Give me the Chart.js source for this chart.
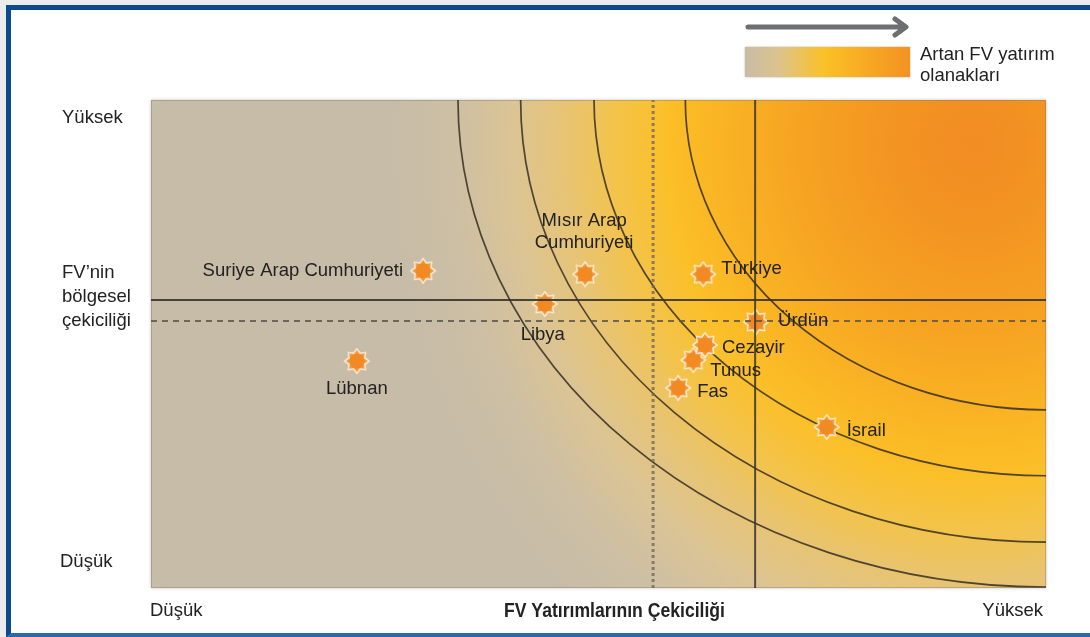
<!DOCTYPE html>
<html lang="tr">
<head>
<meta charset="utf-8">
<title>FV Yatırımlarının Çekiciliği</title>
<script src="https://cdn.jsdelivr.net/npm/chart.js@4.4.1/dist/chart.umd.min.js"></script>
<style>
  html, body { margin: 0; padding: 0; background: #ececec; overflow: hidden; }
  .frame {
    position: absolute; left: 6px; top: 5px; width: 1100px; height: 632px;
    box-sizing: border-box; background: #fff;
    border-top: 5px solid #0c4a8b; border-left: 5px solid #0c4a8b;
    border-bottom: 4px solid #2c69a6;
  }
  #chart { position: absolute; left: 0; top: 0; }
</style>
</head>
<body>
<div class="frame"></div>
<canvas id="chart" width="1090" height="637"></canvas>
<script>
// ülkeler ve konumları (0-100 ölçeği)
const countries = ['Suriye Arap Cumhuriyeti', 'Mısır Arap\nCumhuriyeti', 'Libya', 'Lübnan', 'Türkiye', 'Ürdün', 'Fas', 'Tunus', 'Cezayir', 'İsrail'];
const fdiAttract = [30.4, 48.5, 44.0, 23.0, 61.7, 67.6, 58.9, 60.6, 61.9, 75.5];   // x
const regionalAttract = [65.0, 64.3, 58.2, 46.5, 64.3, 54.5, 41.0, 46.7, 49.8, 33.0]; // y

// ortalama çizgileri
const solidH = 59.0, dashedH = 54.7;
const dottedV = 56.1, solidV = 67.5;

// eş-fırsat eğrileri (sağ üst köşeden yarı eksenler)
const arcRx = [40.3, 50.5, 58.7, 65.7];
const arcRy = [63.5, 77.0, 90.6, 99.8];

// eksen etiketleri
const xTickLabels = ['Düşük', 'Yüksek'];
const yTickLabels = ['Düşük', 'Yüksek'];
const yTitle = ['FV’nin', 'bölgesel', 'çekiciliği'];
const xTitle = 'FV Yatırımlarının Çekiciliği';
const legendText = ['Artan FV yatırım', 'olanakları'];

// etiket yerleşimi: dx, dy, hizalama
const labelPlace = [
  [-20, 0, 'right'], [-1, -53, 'center'], [-2, 31, 'center'], [0, 28, 'center'],
  [18, -5, 'left'], [22, -1, 'left'], [19, 4, 'left'], [17, 11, 'left'],
  [17, 3, 'left'], [20, 4, 'left']
];

const FONT = '"Liberation Sans", Arial, Helvetica, sans-serif';

// yıldız işaretçisi
function makeStar() {
  const c = document.createElement('canvas');
  c.width = c.height = 32;
  const g = c.getContext('2d');
  g.translate(16, 16);
  function spikes(outer, inner, color) {
    g.beginPath();
    for (let i = 0; i < 16; i++) {
      const r = i % 2 === 0 ? outer : inner;
      const a = -Math.PI / 2 + i * Math.PI / 8;
      const px = Math.cos(a) * r, py = Math.sin(a) * r;
      if (i === 0) g.moveTo(px, py); else g.lineTo(px, py);
    }
    g.closePath();
    g.fillStyle = color;
    g.fill();
  }
  spikes(13.5, 9.5, 'rgba(255,240,222,0.85)');
  spikes(11, 7.5, '#f4983a');
  g.beginPath();
  g.arc(0, 0, 7.5, 0, Math.PI * 2);
  g.fillStyle = '#f28a24';
  g.fill();
  return c;
}

const bgPlugin = {
  id: 'bg',
  beforeDatasetsDraw(chart) {
    const { ctx, chartArea: a, scales: { x, y } } = chart;
    const w = a.right - a.left, h = a.bottom - a.top;
    ctx.save();
    ctx.shadowColor = 'rgba(0,0,0,0.25)';
    ctx.shadowBlur = 3;
    ctx.fillStyle = '#c7bca7';
    ctx.fillRect(a.left, a.top, w, h);
    ctx.restore();

    // sağ üstten yayılan degrade
    ctx.save();
    ctx.beginPath();
    ctx.rect(a.left, a.top, w, h);
    ctx.clip();
    const cx = a.left + w * 0.92, cy = a.top + h * 0.09;
    ctx.translate(cx, cy);
    ctx.scale(1, 1.08);
    const grad = ctx.createRadialGradient(0, 0, 0, 0, 0, 580);
    grad.addColorStop(0, '#f18c23');
    grad.addColorStop(0.15, '#f39522');
    grad.addColorStop(0.3, '#f6a322');
    grad.addColorStop(0.45, '#fab524');
    grad.addColorStop(0.53, '#fbbf28');
    grad.addColorStop(0.62, '#f3c34a');
    grad.addColorStop(0.7, '#e8c472');
    grad.addColorStop(0.8, '#dbc495');
    grad.addColorStop(0.9, '#cdbfa4');
    grad.addColorStop(1, '#c7bca7');
    ctx.fillStyle = grad;
    ctx.fillRect(-cx, -cy, 1200, 700);
    ctx.restore();

    ctx.save();
    ctx.strokeStyle = 'rgba(120,110,90,0.35)';
    ctx.lineWidth = 1;
    ctx.strokeRect(a.left + 0.5, a.top + 0.5, w - 1, h - 1);

    // eğriler
    ctx.beginPath();
    ctx.rect(a.left, a.top, w, h);
    ctx.clip();
    const ox = x.getPixelForValue(100), oy = y.getPixelForValue(100);
    ctx.strokeStyle = 'rgba(40,36,30,0.8)';
    ctx.lineWidth = 1.7;
    arcRx.forEach((rx, i) => {
      const px = ox - x.getPixelForValue(100 - rx);
      const py = y.getPixelForValue(100 - arcRy[i]) - oy;
      ctx.beginPath();
      ctx.ellipse(ox, oy, px, py, 0, Math.PI / 2, Math.PI);
      ctx.stroke();
    });
    ctx.restore();
  }
};

const textPlugin = {
  id: 'texts',
  afterDatasetsDraw(chart) {
    const { ctx, chartArea: a } = chart;
    const meta = chart.getDatasetMeta(4);
    ctx.save();
    ctx.fillStyle = '#222';
    ctx.font = '18.5px ' + FONT;
    ctx.textBaseline = 'middle';
    meta.data.forEach((pt, i) => {
      const [dx, dy, align] = labelPlace[i];
      ctx.textAlign = align;
      countries[i].split('\n').forEach((line, j) => {
        ctx.fillText(line, pt.x + dx, pt.y + dy + j * 22);
      });
    });

    // y ekseni
    ctx.textAlign = 'left';
    ctx.fillText(yTickLabels[1], 62, 118);
    ctx.fillText(yTickLabels[0], 60, 562);
    yTitle.forEach((t, j) => ctx.fillText(t, 62, 273 + j * 24));

    // x ekseni
    ctx.fillText(xTickLabels[0], a.left - 1, 611);
    ctx.textAlign = 'right';
    ctx.fillText(xTickLabels[1], a.right - 3, 611);

    ctx.font = 'bold 19.5px ' + FONT;
    ctx.textAlign = 'left';
    const tw = ctx.measureText(xTitle).width;
    ctx.translate(504, 612);
    ctx.scale(221 / tw, 1);
    ctx.fillText(xTitle, 0, 0);
    ctx.restore();

    // lejant
    ctx.save();
    ctx.strokeStyle = '#6e6f72';
    ctx.lineWidth = 5;
    ctx.lineCap = 'round';
    ctx.lineJoin = 'round';
    ctx.beginPath();
    ctx.moveTo(748, 27);
    ctx.lineTo(905, 27);
    ctx.moveTo(895, 19);
    ctx.lineTo(906, 27);
    ctx.lineTo(895, 35);
    ctx.stroke();

    const lg = ctx.createLinearGradient(745, 0, 910, 0);
    lg.addColorStop(0, '#c8bca6');
    lg.addColorStop(0.2, '#dcc38e');
    lg.addColorStop(0.48, '#fbc126');
    lg.addColorStop(0.75, '#f7a824');
    lg.addColorStop(1, '#f39222');
    ctx.shadowColor = 'rgba(0,0,0,0.3)';
    ctx.shadowBlur = 2;
    ctx.fillStyle = lg;
    ctx.fillRect(745, 47, 165, 30);
    ctx.shadowBlur = 0;
    ctx.fillStyle = '#222';
    ctx.font = '18.5px ' + FONT;
    ctx.textAlign = 'left';
    ctx.textBaseline = 'middle';
    ctx.fillText(legendText[0], 920, 55);
    ctx.fillText(legendText[1], 920, 76);
    ctx.restore();
  }
};

const star = makeStar();
const pts = fdiAttract.map((v, i) => ({ x: v, y: regionalAttract[i] }));

new Chart(document.getElementById('chart'), {
  type: 'scatter',
  data: {
    datasets: [
      { data: [{ x: 0, y: solidH }, { x: 100, y: solidH }], showLine: true,
        borderColor: 'rgba(55,52,45,0.9)', borderWidth: 2, pointRadius: 0 },
      { data: [{ x: 0, y: dashedH }, { x: 100, y: dashedH }], showLine: true,
        borderColor: 'rgba(90,86,78,0.85)', borderWidth: 2, borderDash: [6, 5], pointRadius: 0 },
      { data: [{ x: dottedV, y: 0 }, { x: dottedV, y: 100 }], showLine: true,
        borderColor: 'rgba(110,105,95,0.8)', borderWidth: 3, borderDash: [3, 3], pointRadius: 0 },
      { data: [{ x: solidV, y: 0 }, { x: solidV, y: 100 }], showLine: true,
        borderColor: 'rgba(55,52,45,0.85)', borderWidth: 2, pointRadius: 0 },
      { data: pts, pointStyle: star, pointRadius: 12 }
    ]
  },
  options: {
    responsive: false,
    animation: false,
    layout: { padding: { left: 151, right: 44, top: 100, bottom: 49 } },
    plugins: { legend: { display: false }, tooltip: { enabled: false } },
    scales: {
      x: { type: 'linear', min: 0, max: 100, display: false },
      y: { type: 'linear', min: 0, max: 100, display: false }
    }
  },
  plugins: [bgPlugin, textPlugin]
});
</script>
</body>
</html>
